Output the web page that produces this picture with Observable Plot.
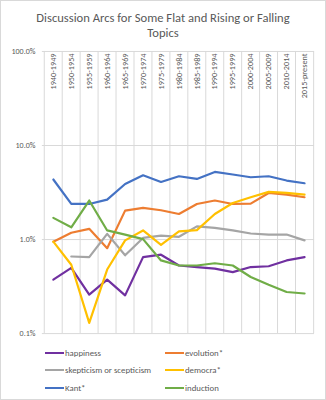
<!DOCTYPE html>
<html>
<head>
<meta charset="utf-8">
<script src="https://cdn.jsdelivr.net/npm/d3@7"></script>
<script src="https://cdn.jsdelivr.net/npm/@observablehq/plot@0.6"></script>
<style>
  body { margin: 0; background: #fff; }
  #wrap { position: relative; width: 326px; height: 400px; box-sizing: border-box; border: 1px solid #d9d9d9; font-family: Carlito, Calibri, Lato, sans-serif; color: #595959; overflow: hidden; }
  #title { position: absolute; top: 9px; left: 0; width: 100%; text-align: center; font-size: 12.6px; line-height: 15px; }
  #chart { position: absolute; top: 41px; left: -1px; }
  #legend { position: absolute; top: 343px; left: 44px; display: grid; grid-template-columns: 120px auto; grid-auto-rows: 17.5px; font-size: 8.8px; }
  .item { display: flex; align-items: center; white-space: nowrap; }
  .swatch { width: 19px; height: 2.2px; margin-right: 1px; }
</style>
</head>
<body>
<div id="wrap">
  <div id="title">Discussion Arcs for Some Flat and Rising or Falling<br>Topics</div>
  <div id="chart"></div>
  <div id="legend"></div>
</div>
<script>
const categories = ["1940-1949","1950-1954","1955-1959","1960-1964","1965-1969","1970-1974","1975-1979","1980-1984","1985-1989","1990-1994","1995-1999","2000-2004","2005-2009","2010-2014","2015-present"];
const seriesNames = ["happiness","evolution*","skepticism or scepticism","democra*","Kant*","induction"];
const seriesColors = ["#7030A0","#ED7D31","#A5A5A5","#FFC000","#4472C4","#70AD47"];
// values in percent
const happiness  = [0.375,0.50,0.26,0.375,0.255,0.65,0.69,0.53,0.51,0.49,0.45,0.51,0.52,0.60,0.65];
const evolution  = [0.95,1.18,1.30,0.81,2.03,2.17,2.05,1.87,2.39,2.60,2.39,2.41,3.13,3.01,2.82];
const skepticism = [null,0.66,0.65,1.15,0.68,1.04,1.10,1.07,1.38,1.33,1.25,1.16,1.13,1.13,0.98];
const democra    = [0.95,0.54,0.13,0.48,0.98,1.25,0.88,1.22,1.26,1.87,2.45,2.82,3.21,3.13,3.01];
const kant       = [4.35,2.39,2.39,2.66,3.90,4.83,4.10,4.71,4.41,5.24,4.92,4.60,4.71,4.24,3.97];
const induction  = [1.70,1.35,2.60,1.25,1.13,1.01,0.60,0.53,0.53,0.56,0.53,0.40,0.33,0.277,0.267];
const yTicks = [0.1, 1, 10, 100];

const seriesValues = [happiness, evolution, skepticism, democra, kant, induction];
const rows = [];
seriesNames.forEach((name, s) => {
  seriesValues[s].forEach((v, i) => {
    if (v != null) rows.push({series: name, period: categories[i], value: v});
  });
});

const W = 326, ML = 42, MR = 11;
const step = (W - ML - MR) / categories.length;

const chart = Plot.plot({
  width: W,
  height: 299,
  marginTop: 9,
  marginBottom: 7,
  marginLeft: ML,
  marginRight: MR,
  style: {fontFamily: "Carlito, Calibri, Lato, sans-serif", fontSize: "8px", color: "#595959", background: "transparent"},
  x: {type: "point", domain: categories, padding: 0.5, axis: null},
  y: {type: "log", domain: [0.1, 100], ticks: yTicks, tickFormat: d => d.toFixed(1) + "%", tickSize: 0, tickPadding: 7, label: null},
  color: {domain: seriesNames, range: seriesColors},
  marks: [
    Plot.ruleY(yTicks, {stroke: "#d9d9d9", strokeWidth: 1}),
    Plot.ruleX(categories, {x: d => d, dx: -step / 2, stroke: "#d9d9d9", strokeWidth: 1}),
    Plot.ruleX([categories[categories.length - 1]], {x: d => d, dx: step / 2, stroke: "#d9d9d9", strokeWidth: 1}),
    Plot.text(categories, {x: d => d, frameAnchor: "top", rotate: -90, textAnchor: "end", lineAnchor: "middle", dy: 2, fill: "#595959", fontSize: 8.3}),
    Plot.line(rows, {x: "period", y: "value", z: "series", stroke: "series", strokeWidth: 2.2, curve: "linear"})
  ]
});
document.getElementById("chart").appendChild(chart);

const legend = document.getElementById("legend");
seriesNames.forEach((name, i) => {
  const item = document.createElement("div");
  item.className = "item";
  const sw = document.createElement("span");
  sw.className = "swatch";
  sw.style.background = seriesColors[i];
  const label = document.createElement("span");
  label.textContent = name;
  item.appendChild(sw);
  item.appendChild(label);
  legend.appendChild(item);
});
</script>
</body>
</html>
